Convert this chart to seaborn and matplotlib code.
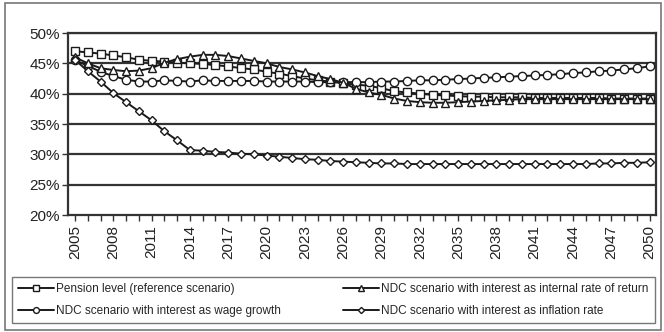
import matplotlib
matplotlib.use("Agg")
import matplotlib.pyplot as plt
import seaborn as sns
import pandas as pd
import numpy as np
from matplotlib.patches import Rectangle
from matplotlib.ticker import FuncFormatter

years = list(range(2005, 2051))

pension_reference = [47.0, 46.8, 46.6, 46.3, 46.0, 45.6, 45.4, 45.3, 45.1, 45.0,
                     44.9, 44.7, 44.5, 44.2, 44.0, 43.6, 43.3, 42.9, 42.5, 42.2,
                     42.0, 41.7, 41.5, 41.3, 40.9, 40.4, 40.2, 40.0, 39.8, 39.7,
                     39.6, 39.5, 39.5, 39.4, 39.4, 39.4, 39.3, 39.3, 39.3, 39.3,
                     39.3, 39.3, 39.2, 39.2, 39.2, 39.2]
ndc_irr = [46.0, 45.0, 44.2, 43.9, 43.7, 43.8, 44.2, 45.1, 45.7, 46.1,
           46.4, 46.4, 46.2, 45.8, 45.4, 45.0, 44.4, 44.0, 43.5, 42.9,
           42.4, 41.8, 40.8, 40.2, 39.8, 39.2, 38.8, 38.6, 38.5, 38.5,
           38.6, 38.7, 38.8, 38.9, 39.0, 39.1, 39.1, 39.1, 39.1, 39.1,
           39.1, 39.1, 39.1, 39.1, 39.1, 39.1]
ndc_wage = [45.5, 44.6, 43.6, 42.9, 42.3, 42.0, 42.0, 42.2, 42.1, 42.0,
            42.2, 42.1, 42.1, 42.1, 42.1, 42.0, 42.0, 42.0, 42.0, 41.9,
            41.9, 41.9, 41.9, 41.9, 42.0, 42.0, 42.1, 42.2, 42.2, 42.3,
            42.4, 42.5, 42.6, 42.7, 42.8, 42.9, 43.0, 43.1, 43.2, 43.4,
            43.5, 43.7, 43.8, 44.0, 44.2, 44.5]
ndc_inflation = [45.6, 43.7, 42.0, 40.1, 38.6, 37.1, 35.6, 33.8, 32.3, 30.7,
                 30.6, 30.4, 30.3, 30.1, 30.0, 29.8, 29.6, 29.4, 29.2, 29.1,
                 28.9, 28.8, 28.7, 28.6, 28.5, 28.5, 28.4, 28.4, 28.4, 28.4,
                 28.4, 28.4, 28.4, 28.4, 28.4, 28.4, 28.4, 28.4, 28.4, 28.4,
                 28.4, 28.5, 28.5, 28.6, 28.6, 28.7]

series_names = ["Pension level (reference scenario)",
                "NDC scenario with interest as wage growth",
                "NDC scenario with interest as internal rate of return",
                "NDC scenario with interest as inflation rate"]
series_values = [pension_reference, ndc_wage, ndc_irr, ndc_inflation]
series_markers = ["s", "o", "^", "D"]
marker_sizes = [6, 6, 6, 4.5]

sns.set_theme(style="white")
plt.rcParams['font.family'] = ['Liberation Sans', 'DejaVu Sans']

fig = plt.figure(figsize=(6.64, 3.32), dpi=100)
ax = fig.add_axes([0.1024, 0.3524, 0.8855, 0.5482])

df = pd.DataFrame({
    "year": np.tile(years, len(series_names)),
    "value": np.concatenate(series_values),
    "series": np.repeat(series_names, len(years)),
})

for name, mk, ms in zip(series_names, series_markers, marker_sizes):
    sub = df[df["series"] == name]
    sns.lineplot(data=sub, x="year", y="value", ax=ax, color="#1a1a1a",
                 linewidth=1.4, marker=mk, markersize=ms,
                 markerfacecolor="white", markeredgecolor="#1a1a1a",
                 markeredgewidth=1.0, label=name, legend=False, zorder=3)

ax.set_xlim(2004.45, 2050.5)
ax.set_ylim(20, 50)
ax.set_yticks(range(20, 51, 5))
ax.yaxis.set_major_formatter(FuncFormatter(lambda v, p: f"{int(v)}%"))
ax.set_xticks(years)
ax.set_xticklabels([str(y) if (y - 2005) % 3 == 0 else "" for y in years],
                   rotation=90)
ax.tick_params(axis="x", length=4, width=1, color="#333333", direction="out",
               labelsize=11, pad=3, labelcolor="#222222", bottom=True)
ax.tick_params(axis="y", length=4, width=1, color="#333333", direction="out",
               labelsize=11, pad=2, labelcolor="#222222", left=True)
ax.set_xlabel("")
ax.set_ylabel("")
ax.grid(False)
for y in range(25, 51, 5):
    ax.axhline(y, color="#333333", linewidth=1.6, zorder=1)
for s in ax.spines.values():
    s.set_visible(True)
    s.set_color("#333333")
    s.set_linewidth(1.6)

handles, labels = ax.get_legend_handles_labels()
leg = fig.legend(handles, labels, ncol=2, loc="upper left",
                 bbox_to_anchor=(12 / 664, 1 - 324 / 332, (655 - 12) / 664, 47 / 332),
                 mode="expand", frameon=True, fontsize=8.5, handlelength=3.0,
                 handletextpad=0.2, borderpad=0.55, labelspacing=0.8,
                 columnspacing=1.0, borderaxespad=0, fancybox=False,
                 markerscale=0.7)
leg.get_frame().set_edgecolor("#555555")
leg.get_frame().set_linewidth(1.0)

fig.patches.append(Rectangle((5 / 664, 2 / 332), 656 / 664, 327 / 332,
                             transform=fig.transFigure, fill=False,
                             edgecolor="#777777", linewidth=1.2))

fig.savefig("out.png", dpi=100)
